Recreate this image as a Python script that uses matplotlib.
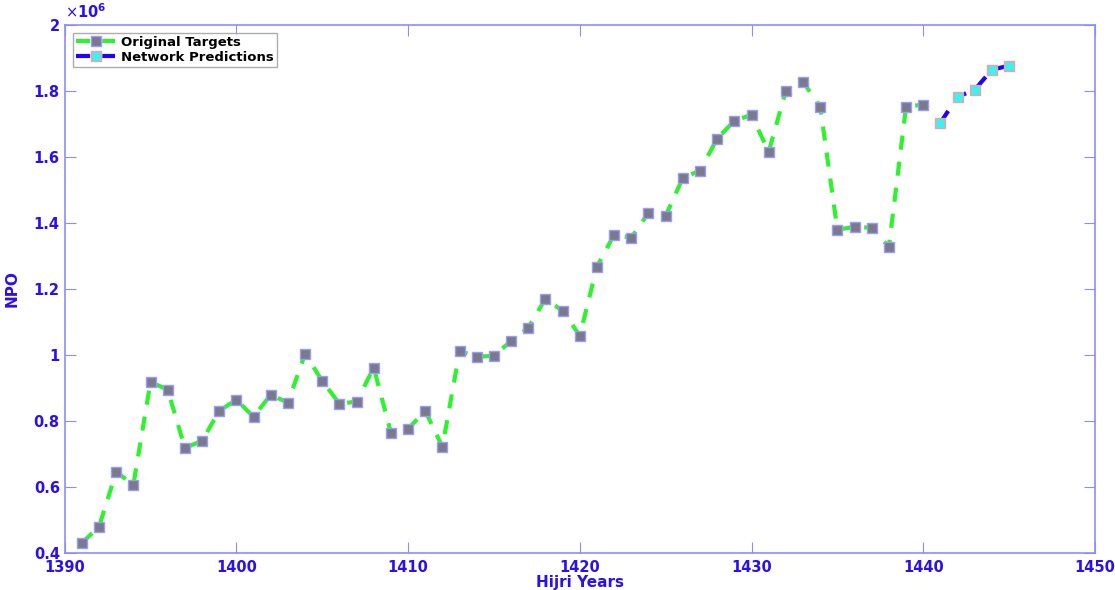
import matplotlib
matplotlib.use('Agg')
from matplotlib import pyplot as plt
from matplotlib.ticker import FuncFormatter

# Data (values in millions)
years = list(range(1391, 1441))
targets = [0.430, 0.479, 0.645, 0.606, 0.918, 0.894, 0.718, 0.739, 0.830, 0.864,
           0.812, 0.879, 0.855, 1.003, 0.921, 0.852, 0.858, 0.961, 0.764, 0.776,
           0.830, 0.721, 1.012, 0.994, 0.997, 1.042, 1.082, 1.170, 1.133, 1.058,
           1.267, 1.364, 1.355, 1.430, 1.421, 1.536, 1.558, 1.655, 1.709, 1.727,
           1.615, 1.800, 1.827, 1.752, 1.379, 1.388, 1.385, 1.327, 1.752, 1.758]
pred_years = [1441, 1442, 1443, 1444, 1445]
predictions = [1.703, 1.782, 1.803, 1.864, 1.876]

blue = '#2a10f0'
spine = '#8c8cff'

fig = plt.figure(figsize=(11.15, 5.9), dpi=100)
ax = fig.add_axes([0.058, 0.063, 0.924, 0.895])

# dash pattern in units of linewidth (scaled by lw=3 -> ~14px dash, ~12px gap)
ax.plot(years, [v * 1e6 for v in targets], color='#2ef22e', lw=3, dashes=(3.4, 2.9),
        marker='s', ms=7, mfc='#7a7a8a', mec='#9a9aff', mew=1,
        label='Original Targets')
ax.plot(pred_years, [v * 1e6 for v in predictions], color='#2000ff', lw=3, dashes=(3.4, 2.9),
        marker='s', ms=7, mfc='#40f0f0', mec='#f0a0a0', mew=1,
        label='Network Predictions')

ax.set_xlim(1390, 1450)
ax.set_ylim(0.4e6, 2e6)
ax.set_xticks(range(1390, 1451, 10))
ax.set_yticks([v * 1e5 for v in range(4, 21, 2)])
ax.yaxis.set_major_formatter(FuncFormatter(lambda v, p: '%g' % round(v / 1e6, 2)))

for s in ax.spines.values():
    s.set_color(spine)
    s.set_linewidth(1.2)
ax.tick_params(axis='both', direction='in', length=8, color=spine, top=True, right=True,
               labelsize=10.5, labelcolor=blue)
ax.tick_params(axis='x', pad=5)
for lab in ax.get_xticklabels() + ax.get_yticklabels():
    lab.set_fontweight('bold')

ax.set_xlabel('Hijri Years', fontsize=11, fontweight='bold', color=blue, labelpad=0)
ax.set_ylabel('NPO', fontsize=11, fontweight='bold', color=blue, labelpad=10)
ax.text(0.0, 1.008, r'$\times\mathbf{10^{6}}$', transform=ax.transAxes, color=blue,
        fontsize=10.5, ha='left', va='bottom')

leg = ax.legend(loc='upper left', fontsize=9.5, frameon=True, fancybox=False,
                handlelength=3, borderaxespad=0.6, borderpad=0.25, labelspacing=0.15,
                handletextpad=0.4)
leg.get_frame().set_edgecolor('#999999')
for t in leg.get_texts():
    t.set_fontweight('bold')

plt.savefig('out.png', dpi=100)
